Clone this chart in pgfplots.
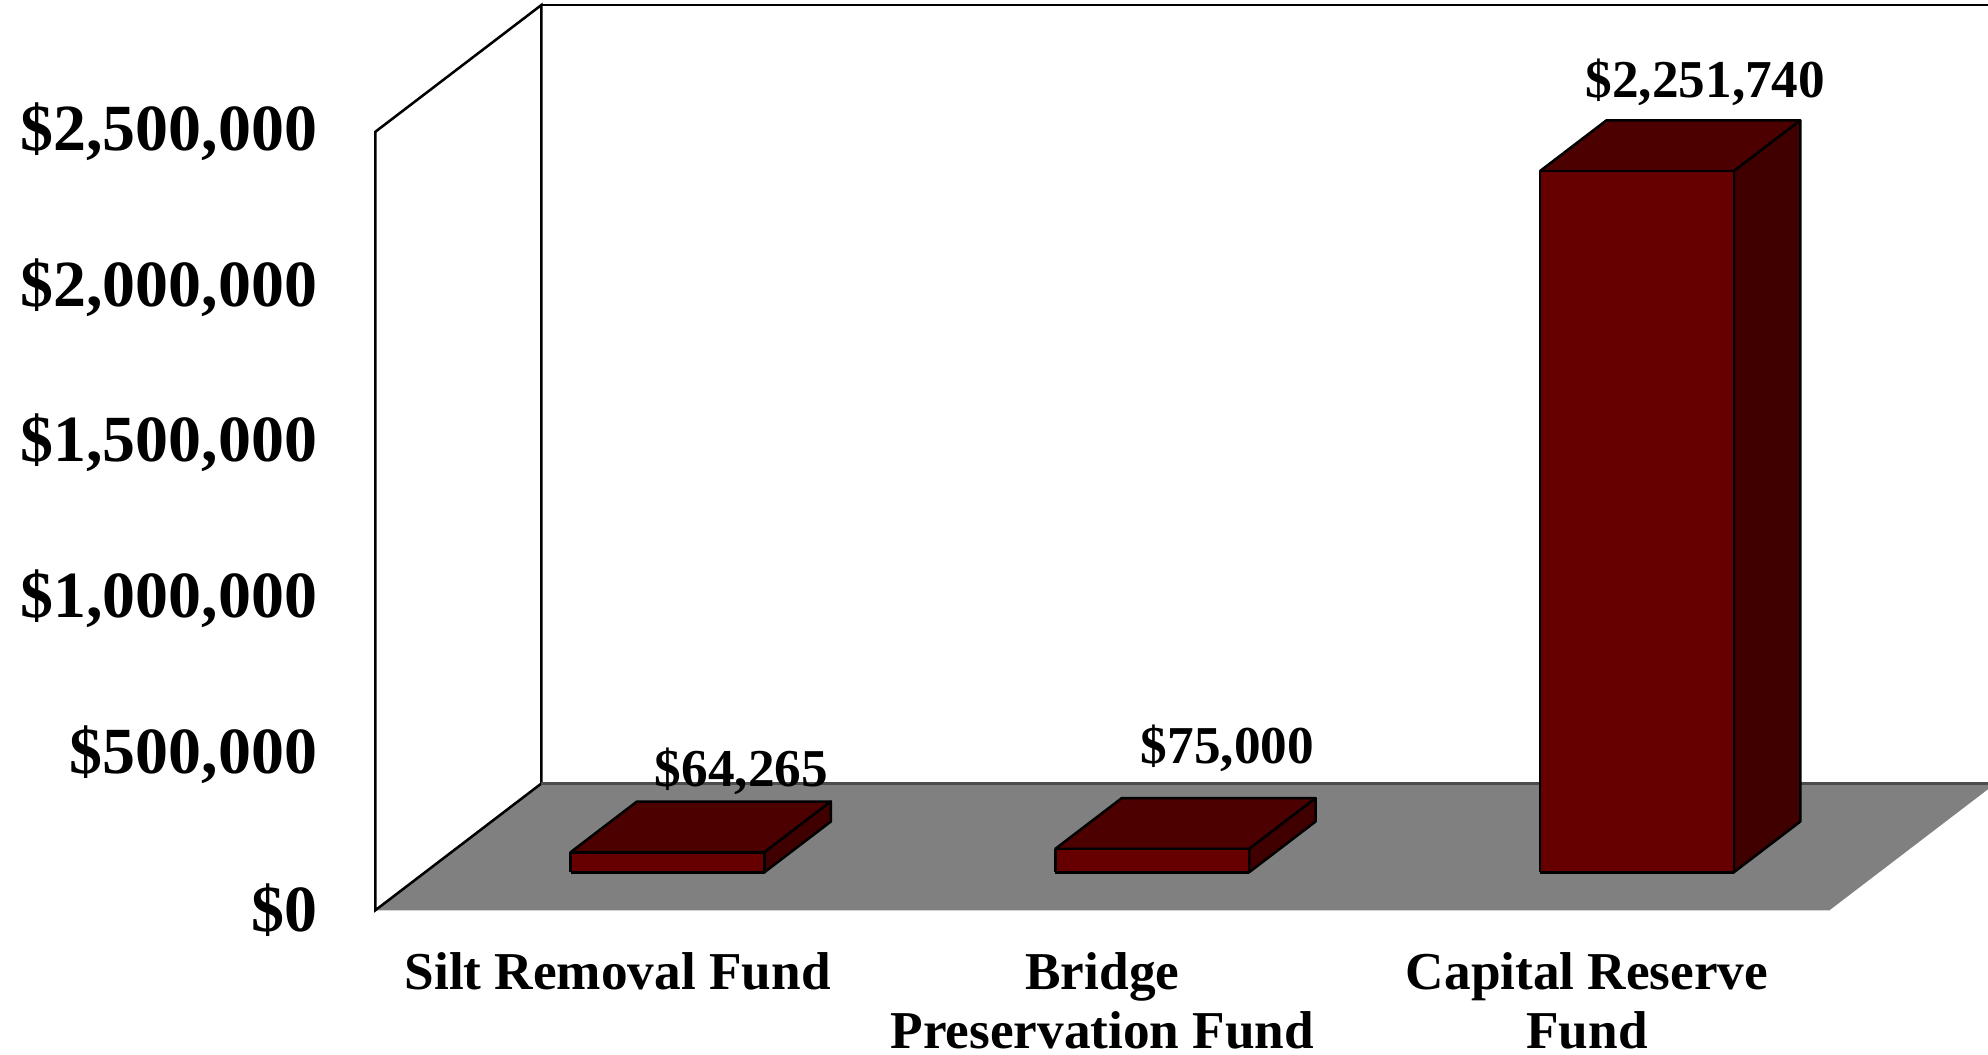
\documentclass[border=0pt]{standalone}
\usepackage{pgfplots}
\pgfplotsset{compat=1.18}
\usepackage{fontspec}
\setmainfont{Liberation Serif}
\definecolor{barfront}{HTML}{660000}
\definecolor{bartop}{HTML}{4D0000}
\definecolor{barside}{HTML}{400000}
\definecolor{floorgray}{HTML}{808080}
\begin{document}
\begin{tikzpicture}
\useasboundingbox (-74pt,-28.5pt) rectangle (318pt,179.5pt);
\clip (-74pt,-28.5pt) rectangle (318pt,179.5pt);
\begin{axis}[
  at={(0pt,0pt)}, anchor=origin,
  x={(95.58pt,0pt)}, y={(32.75pt,25pt)}, z={(0pt,61.4pt)},
  xmin=0, xmax=3, ymin=0, ymax=1, zmin=0, zmax=2.5,
  clip=false,
  axis lines*=left,
  axis line style={draw=none},
  major tick length=0pt,
  z filter/.expression={z/1000000},
  xtick={0.5,1.5,2.5},
  xticklabels={{Silt Removal Fund},{Bridge\\Preservation Fund},{Capital Reserve\\Fund}},
  ytick=\empty,
  ztick={0,0.5,1,1.5,2,2.5},
  zticklabels={{\$0},{\$500,000},{\$1,000,000},{\$1,500,000},{\$2,000,000},{\$2,500,000}},
  xticklabel style={anchor=north, inner sep=0pt, yshift=-8.2pt, align=center,
    font=\fontsize{10.5}{11.5}\selectfont\bfseries},
  zticklabel style={anchor=east, inner sep=0pt, xshift=-11.25pt,
    font=\fontsize{13}{15}\selectfont\bfseries},
  every axis plot/.append style={mark=none, line width=0.5pt, line join=round},
]
% floor
\addplot3[fill=floorgray, draw=none] coordinates {(0,0,0) (3,0,0) (3,1,0) (0,1,0) (0,0,0)};
% walls
\draw[line width=0.5pt, black] (rel axis cs:0,0,0) -- (rel axis cs:0,0,1) -- (rel axis cs:0,1,1) -- (rel axis cs:0,1,0) -- cycle;
\draw[line width=0.5pt, black] (rel axis cs:0,1,1) -- (rel axis cs:1,1,1) -- (rel axis cs:1,1,0);
\draw[line width=0.6pt, black!70] (rel axis cs:0,1,0) -- (rel axis cs:1,1,0);
% Silt Removal Fund: 64265
\addplot3[fill=bartop, draw=black] coordinates {(0.3,0.3,64265) (0.7,0.3,64265) (0.7,0.7,64265) (0.3,0.7,64265) (0.3,0.3,64265)};
\addplot3[fill=barside, draw=black] coordinates {(0.7,0.3,0) (0.7,0.7,0) (0.7,0.7,64265) (0.7,0.3,64265) (0.7,0.3,0)};
\addplot3[fill=barfront, draw=black] coordinates {(0.3,0.3,0) (0.7,0.3,0) (0.7,0.3,64265) (0.3,0.3,64265) (0.3,0.3,0)};
% Bridge Preservation Fund: 75000
\addplot3[fill=bartop, draw=black] coordinates {(1.3,0.3,75000) (1.7,0.3,75000) (1.7,0.7,75000) (1.3,0.7,75000) (1.3,0.3,75000)};
\addplot3[fill=barside, draw=black] coordinates {(1.7,0.3,0) (1.7,0.7,0) (1.7,0.7,75000) (1.7,0.3,75000) (1.7,0.3,0)};
\addplot3[fill=barfront, draw=black] coordinates {(1.3,0.3,0) (1.7,0.3,0) (1.7,0.3,75000) (1.3,0.3,75000) (1.3,0.3,0)};
% Capital Reserve Fund: 2251740
\addplot3[fill=bartop, draw=black] coordinates {(2.3,0.3,2251740) (2.7,0.3,2251740) (2.7,0.7,2251740) (2.3,0.7,2251740) (2.3,0.3,2251740)};
\addplot3[fill=barside, draw=black] coordinates {(2.7,0.3,0) (2.7,0.7,0) (2.7,0.7,2251740) (2.7,0.3,2251740) (2.7,0.3,0)};
\addplot3[fill=barfront, draw=black] coordinates {(2.3,0.3,0) (2.7,0.3,0) (2.7,0.3,2251740) (2.3,0.3,2251740) (2.3,0.3,0)};
% value labels
\addplot3[draw=none, nodes near coords={\$64,265},
  every node near coord/.style={anchor=base, inner sep=0pt, xshift=1.5pt, yshift=3pt, font=\fontsize{10.5}{12}\selectfont\bfseries}]
  coordinates {(0.5,0.7,64265)};
\addplot3[draw=none, nodes near coords={\$75,000},
  every node near coord/.style={anchor=base, inner sep=0pt, xshift=1.75pt, yshift=6.75pt, font=\fontsize{10.5}{12}\selectfont\bfseries}]
  coordinates {(1.5,0.7,75000)};
\addplot3[draw=none, nodes near coords={\$2,251,740},
  every node near coord/.style={anchor=base, inner sep=0pt, xshift=0.4pt, yshift=4.5pt, font=\fontsize{10.5}{12}\selectfont\bfseries}]
  coordinates {(2.5,0.7,2251740)};
\end{axis}
\end{tikzpicture}
\end{document}
